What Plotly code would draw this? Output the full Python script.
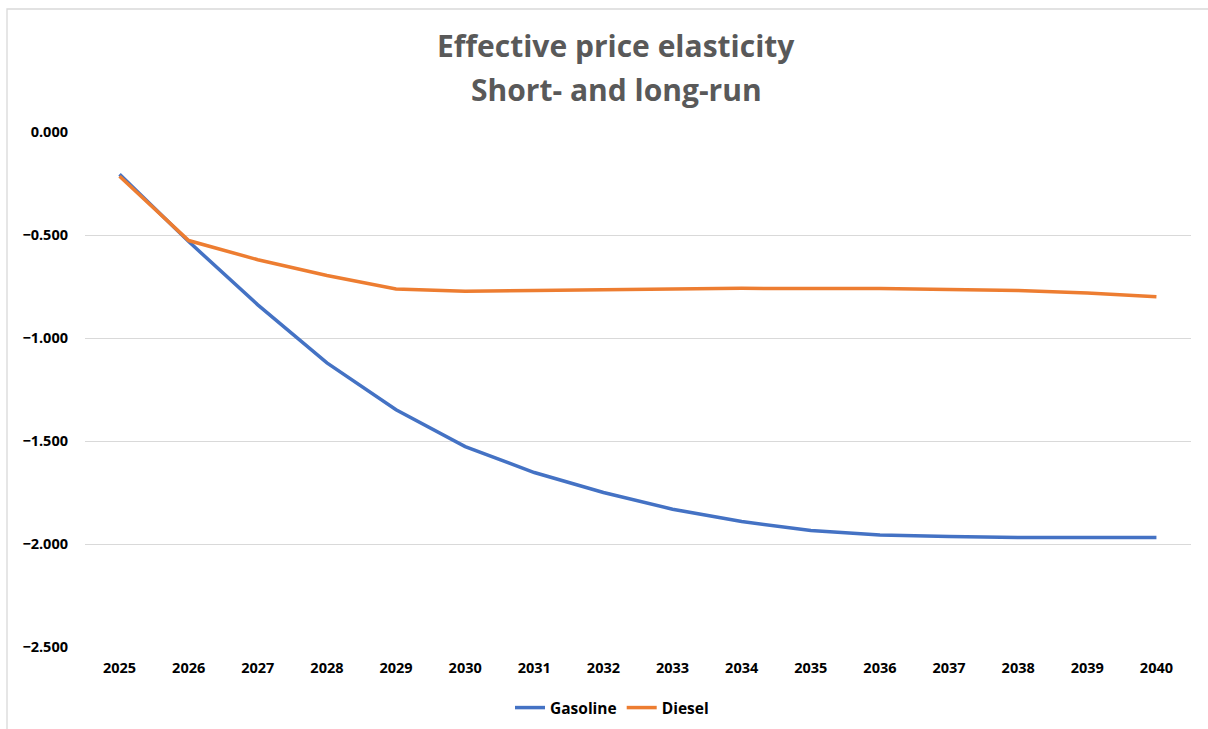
import plotly.graph_objects as go

# Effective price elasticity by year
years = [str(y) for y in range(2025, 2041)]
gasoline = [-0.205, -0.532, -0.839, -1.121, -1.348, -1.527, -1.653, -1.750,
            -1.831, -1.891, -1.935, -1.956, -1.964, -1.969, -1.969, -1.968]
diesel = [-0.215, -0.527, -0.620, -0.697, -0.762, -0.773, -0.769, -0.765,
          -0.762, -0.759, -0.760, -0.760, -0.765, -0.770, -0.781, -0.800]
y_ticks = [0.0, -0.5, -1.0, -1.5, -2.0, -2.5]
title_lines = ["Effective price elasticity", "Short- and long-run"]

W, H = 1208, 729
ML, MR, MT, MB = 85, 17, 132, 82
pw, ph = W - ML - MR, H - MT - MB

def px_x(p):
    return (p - ML) / pw

def px_y(p):
    return (H - MB - p) / ph

font_family = "'Open Sans', sans-serif"

fig = go.Figure()
fig.add_trace(go.Scatter(x=years, y=gasoline, mode="lines", name="Gasoline",
                         line=dict(color="#4472C4", width=3.5)))
fig.add_trace(go.Scatter(x=years, y=diesel, mode="lines", name="Diesel",
                         line=dict(color="#ED7D31", width=3.5)))

title_annotations = [
    dict(text=txt, xref="paper", yref="paper", x=px_x(616), y=px_y(yc),
         xanchor="center", yanchor="middle", showarrow=False,
         font=dict(size=30, color="#595959", family=font_family,
                   weight="bold"))
    for txt, yc in zip(title_lines, [46, 89])
]

fig.update_layout(
    width=W, height=H,
    margin=dict(l=ML, r=MR, t=MT, b=MB, autoexpand=False),
    paper_bgcolor="white", plot_bgcolor="white",
    font=dict(family=font_family, color="black"),
    showlegend=True,
    legend=dict(orientation="h", xref="container", yref="container",
                x=612 / W, xanchor="center",
                y=1 - 708 / H, yanchor="middle",
                font=dict(size=15.5, family=font_family, weight="bold"),
                itemwidth=30, tracegroupgap=0),
    xaxis=dict(type="category", range=[-0.5, 15.5], showgrid=False,
               showline=False, ticks="", zeroline=False,
               tickfont=dict(size=14.5, weight="bold"), ticklabelstandoff=10),
    yaxis=dict(range=[-2.5, 0.0], tickvals=y_ticks, tickformat=".3f",
               showgrid=True, gridcolor="#d9d9d9", gridwidth=1.3,
               zeroline=False, showline=False, ticks="",
               tickfont=dict(size=14.5, weight="bold"), ticklabelstandoff=16),
    annotations=title_annotations,
    shapes=[
        dict(type="rect", xref="paper", yref="paper",
             x0=px_x(7), x1=px_x(W + 5), y0=px_y(H + 5), y1=px_y(9),
             line=dict(color="#d9d9d9", width=1.3), layer="below"),
    ],
)

fig.write_html("out.html")
